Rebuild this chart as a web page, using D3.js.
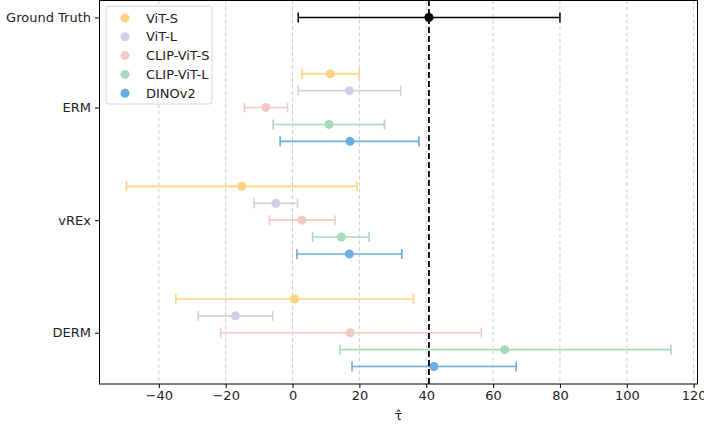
<!DOCTYPE html>
<html>
<head>
<meta charset="utf-8">
<script src="https://cdn.jsdelivr.net/npm/d3@7"></script>
<style>
  body { margin: 0; background: #fff; }
  text { font-family: "DejaVu Sans", sans-serif; }
</style>
</head>
<body>
<div id="chart"></div>
<script>
// data
const methods = ["ERM", "vREx", "DERM"];
const models = ["ViT-S", "ViT-L", "CLIP-ViT-S", "CLIP-ViT-L", "DINOv2"];
const modelColors = ["#fed37f", "#d5cee6", "#f4c8c4", "#a8d9ba", "#6badde"];

// [ViT-S, ViT-L, CLIP-ViT-S, CLIP-ViT-L, DINOv2]
const ermMean = [11.3, 17.0, -8.0, 10.9, 17.2];
const ermLow = [2.8, 1.7, -14.4, -5.8, -3.7];
const ermHigh = [19.9, 32.4, -1.5, 27.5, 37.8];

const vrexMean = [-15.2, -5.0, 2.8, 14.6, 17.0];
const vrexLow = [-49.7, -11.5, -6.9, 6.0, 1.3];
const vrexHigh = [19.3, 1.5, 12.7, 22.9, 32.7];

const dermMean = [0.6, -17.1, 17.3, 63.5, 42.3];
const dermLow = [-34.9, -28.2, -21.5, 14.2, 17.8];
const dermHigh = [36.2, -5.9, 56.5, 113.2, 66.9];

const groundTruth = [40.8, 1.7, 80.0]; // mean, low, high
const xTicks = [-40, -20, 0, 20, 40, 60, 80, 100, 120];

const width = 704, height = 427;
const margin = { top: 0, right: 6, bottom: 43, left: 99 };
const plotW = width - margin.left - margin.right;
const plotH = height - margin.top - margin.bottom;

const svg = d3.select("#chart").append("svg")
    .attr("width", width)
    .attr("height", height);

const g = svg.append("g")
    .attr("transform", `translate(${margin.left},${margin.top})`);

// method positions: DERM=0, vREx=1, ERM=2, ground truth above
const methodPos = { "ERM": 2, "vREx": 1, "DERM": 0, "Ground Truth": 2.8 };
const step = 0.15;

const x = d3.scaleLinear().domain([-57.9, 121.3]).range([0, plotW]);
const y = d3.scaleLinear().domain([-0.455, 2.955]).range([plotH, 0]);

// grid
g.append("g")
    .selectAll("line")
    .data(xTicks)
    .enter().append("line")
    .attr("x1", d => x(d)).attr("x2", d => x(d))
    .attr("y1", 0).attr("y2", plotH)
    .attr("stroke", "#c8c8c8")
    .attr("stroke-width", 0.9)
    .attr("stroke-dasharray", "4,2.5");

// build rows
const rows = [];
const series = { "ERM": [ermMean, ermLow, ermHigh], "vREx": [vrexMean, vrexLow, vrexHigh], "DERM": [dermMean, dermLow, dermHigh] };
methods.forEach(m => {
  models.forEach((md, i) => {
    rows.push({
      method: m, model: md, color: modelColors[i],
      pos: methodPos[m] + (2 - i) * step,
      mean: series[m][0][i], low: series[m][1][i], high: series[m][2][i]
    });
  });
});

function drawBar(d, color, r, lw) {
  const cy = y(d.pos);
  const gg = g.append("g");
  gg.append("line")
      .attr("x1", x(d.low)).attr("x2", x(d.high))
      .attr("y1", cy).attr("y2", cy)
      .attr("stroke", color).attr("stroke-width", lw);
  [d.low, d.high].forEach(v => {
    gg.append("line")
        .attr("x1", x(v)).attr("x2", x(v))
        .attr("y1", cy - 5).attr("y2", cy + 5)
        .attr("stroke", color).attr("stroke-width", lw);
  });
  gg.append("circle")
      .attr("cx", x(d.mean)).attr("cy", cy)
      .attr("r", r)
      .attr("fill", color);
}

rows.forEach(d => drawBar(d, d.color, 4.5, 1.6));

// ground truth
drawBar({ pos: methodPos["Ground Truth"], mean: groundTruth[0], low: groundTruth[1], high: groundTruth[2] }, "#000", 4.5, 1.5);

// dashed reference line
g.append("line")
    .attr("x1", x(groundTruth[0])).attr("x2", x(groundTruth[0]))
    .attr("y1", 0).attr("y2", plotH)
    .attr("stroke", "#000")
    .attr("stroke-width", 1.8)
    .attr("stroke-dasharray", "6,3");

// frame
g.append("rect")
    .attr("x", 0.5).attr("y", 0.5)
    .attr("width", plotW - 1).attr("height", plotH - 0.5)
    .attr("fill", "none")
    .attr("stroke", "#000")
    .attr("stroke-width", 1);

// x axis
const xAxis = g.append("g")
    .attr("transform", `translate(0,${plotH})`)
    .call(d3.axisBottom(x).tickValues(xTicks).tickSize(4).tickPadding(3)
      .tickFormat(d => d < 0 ? "\u2212" + Math.abs(d) : d));
xAxis.select(".domain").remove();
xAxis.selectAll("text").style("font-size", "13px").attr("fill", "#222");

// y axis
const yLabels = ["Ground Truth", "ERM", "vREx", "DERM"];
const yAxis = g.append("g")
    .call(d3.axisLeft(y).tickValues(yLabels.map(l => methodPos[l])).tickSize(4).tickPadding(4)
      .tickFormat((d, i) => yLabels[i]));
yAxis.select(".domain").remove();
yAxis.selectAll("text").style("font-size", "13px").attr("fill", "#222");

// x label
g.append("text")
    .attr("x", plotW / 2)
    .attr("y", plotH + 36)
    .attr("text-anchor", "middle")
    .style("font-size", "13px")
    .attr("fill", "#222")
    .text("\u03C4\u0302");

// legend
const legend = g.append("g").attr("transform", "translate(7,6)");
legend.append("rect")
    .attr("width", 106).attr("height", 98)
    .attr("rx", 3)
    .attr("fill", "#fff").attr("fill-opacity", 0.85)
    .attr("stroke", "#d6d6d6");
models.forEach((md, i) => {
  const row = legend.append("g").attr("transform", `translate(0,${12 + i * 18.8})`);
  row.append("circle").attr("cx", 19).attr("cy", 0).attr("r", 4.5).attr("fill", modelColors[i]);
  row.append("text").attr("x", 40).attr("y", 0).attr("dy", "0.35em")
      .style("font-size", "13px").attr("fill", "#222").text(md);
});
</script>
</body>
</html>
